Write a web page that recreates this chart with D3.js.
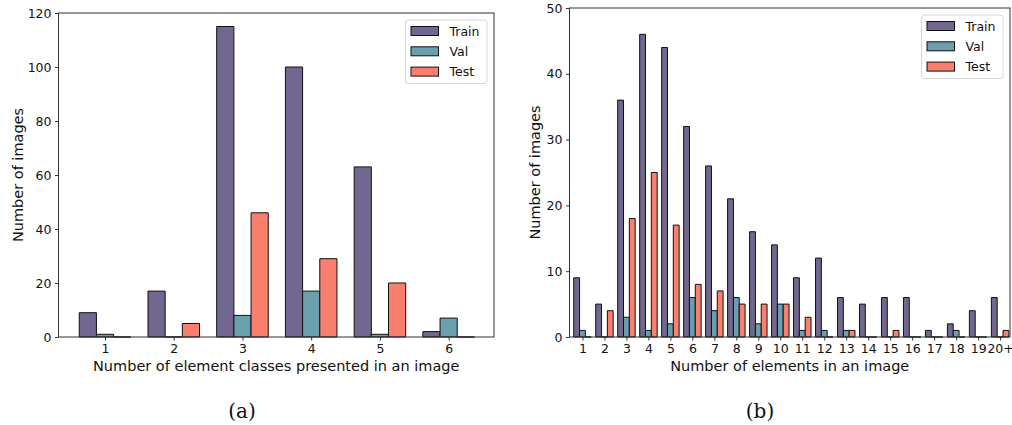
<!DOCTYPE html>
<meta charset="utf-8">
<style>
  body { margin: 0; background: #fff; }
  text { font-family: "DejaVu Sans", sans-serif; fill: #111; }
  .cap { font-family: "DejaVu Serif", serif; }
</style>
<body>
<script src="https://cdn.jsdelivr.net/npm/d3@7/dist/d3.min.js"></script>
<script>

// series names and colours
var seriesNames = ["Train", "Val", "Test"];
var seriesColors = ["#716791", "#6a9fae", "#fa7f6f"];

// (a) element classes per image
var classCats = ["1", "2", "3", "4", "5", "6"];
var classTrain = [9, 17, 115, 100, 63, 2];
var classVal = [1, 0, 8, 17, 1, 7];
var classTest = [0, 5, 46, 29, 20, 0];
var classYTicks = [0, 20, 40, 60, 80, 100, 120];

// (b) elements per image
var elemCats = ["1", "2", "3", "4", "5", "6", "7", "8", "9", "10",
                "11", "12", "13", "14", "15", "16", "17", "18", "19", "20+"];
var elemTrain = [9, 5, 36, 46, 44, 32, 26, 21, 16, 14, 9, 12, 6, 5, 6, 6, 1, 2, 4, 6];
var elemVal = [1, 0, 3, 1, 2, 6, 4, 6, 2, 5, 1, 1, 1, 0, 0, 0, 0, 1, 0, 0];
var elemTest = [0, 4, 18, 25, 17, 8, 7, 5, 5, 5, 3, 0, 1, 0, 1, 0, 0, 0, 0, 1];
var elemYTicks = [0, 10, 20, 30, 40, 50];

var svg = d3.select("body").append("svg")
    .attr("width", 1012)
    .attr("height", 425);

function panel(opt) {
    var g = svg.append("g");
    var x = d3.scaleLinear().domain(opt.xDomain).range([opt.left, opt.right]);
    var y = d3.scaleLinear().domain([0, opt.yMax]).range([opt.bottom, opt.top]);
    var bw = opt.barWidth;

    // bars: paths so that zero counts still show their edge
    opt.series.forEach(function (vals, s) {
        g.selectAll(null)
            .data(vals)
            .enter().append("path")
            .attr("d", function (d, i) {
                var c = i + 1 + (s - 1) * bw;
                var x0 = x(c - bw / 2), x1 = x(c + bw / 2);
                return "M" + x0 + "," + y(0) + "V" + y(d) + "H" + x1 + "V" + y(0) + "Z";
            })
            .attr("fill", seriesColors[s])
            .attr("stroke", "#111")
            .attr("stroke-width", 1);
    });

    // frame
    g.append("rect")
        .attr("x", opt.left).attr("y", opt.top)
        .attr("width", opt.right - opt.left)
        .attr("height", opt.bottom - opt.top)
        .attr("fill", "none")
        .attr("stroke", "#333")
        .attr("stroke-width", 1);

    // axes
    var xAxis = d3.axisBottom(x)
        .tickValues(d3.range(1, opt.cats.length + 1))
        .tickFormat(function (d) { return opt.cats[d - 1]; })
        .tickSize(3.5).tickPadding(3.5);
    var ax = g.append("g")
        .attr("transform", "translate(0," + opt.bottom + ")")
        .call(xAxis);
    var yAxis = d3.axisLeft(y)
        .tickValues(opt.yTicks)
        .tickSize(3.5).tickPadding(3.5);
    var ay = g.append("g")
        .attr("transform", "translate(" + opt.left + ",0)")
        .call(yAxis);
    [ax, ay].forEach(function (a) {
        a.select(".domain").remove();
        a.selectAll(".tick line").attr("stroke", "#333");
        a.selectAll(".tick text")
            .style("font-family", "DejaVu Sans")
            .style("font-size", "12.5px")
            .attr("fill", "#111");
    });

    // axis labels
    g.append("text")
        .attr("x", (opt.left + opt.right) / 2)
        .attr("y", 371)
        .attr("text-anchor", "middle")
        .style("font-size", "14.5px")
        .text(opt.xLabel);
    g.append("text")
        .attr("transform", "translate(" + opt.yLabelX + "," + ((opt.top + opt.bottom) / 2) + ") rotate(-90)")
        .attr("text-anchor", "middle")
        .attr("dy", "0.35em")
        .style("font-size", "14.5px")
        .text("Number of images");

    // legend
    var lx = opt.right - 7 - 81.5, ly = opt.top + 7;
    g.append("rect")
        .attr("x", lx).attr("y", ly)
        .attr("width", 81.5).attr("height", 63.5)
        .attr("rx", 3)
        .attr("fill", "#fff").attr("fill-opacity", 0.8)
        .attr("stroke", "#d6d6d6");
    seriesNames.forEach(function (name, s) {
        var ry = ly + 11 + s * 20.3;
        g.append("rect")
            .attr("x", lx + 5.5).attr("y", ry - 4.5)
            .attr("width", 27.5).attr("height", 9)
            .attr("fill", seriesColors[s])
            .attr("stroke", "#111");
        g.append("text")
            .attr("x", lx + 44).attr("y", ry)
            .attr("dy", "0.36em")
            .style("font-size", "12.5px")
            .text(name);
    });

    // caption
    g.append("text")
        .attr("class", "cap")
        .attr("x", opt.capX)
        .attr("y", 418)
        .attr("text-anchor", "middle")
        .style("font-size", "20px")
        .text(opt.caption);
}

panel({
    cats: classCats,
    series: [classTrain, classVal, classTest],
    yTicks: classYTicks, yMax: 120,
    xDomain: [0.323, 6.66],
    left: 58.5, right: 494, top: 13, bottom: 337,
    barWidth: 0.25,
    xLabel: "Number of element classes presented in an image",
    yLabelX: 18,
    caption: "(a)", capX: 242
});

panel({
    cats: elemCats,
    series: [elemTrain, elemVal, elemTest],
    yTicks: elemYTicks, yMax: 50,
    xDomain: [0.41, 20.45],
    left: 569.5, right: 1010, top: 8, bottom: 337,
    barWidth: 0.265,
    xLabel: "Number of elements in an image",
    yLabelX: 535,
    caption: "(b)", capX: 760
});

</script>
</body>
